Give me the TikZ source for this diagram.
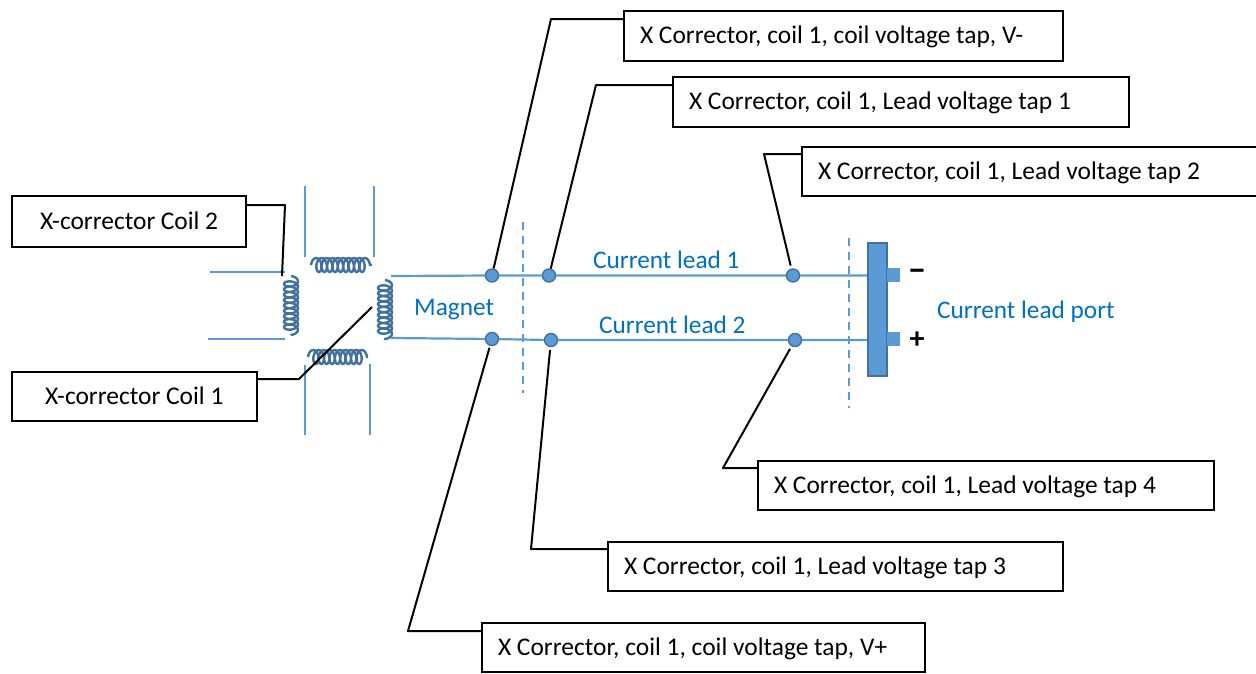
\documentclass[tikz,border=0pt]{standalone}
\usepackage{fontspec}
\setmainfont{Carlito}
\usetikzlibrary{decorations.pathmorphing}
\definecolor{wire}{HTML}{5B9BD5}
\definecolor{wireedge}{HTML}{41719C}
\definecolor{labelblue}{HTML}{0070C0}
\tikzset{
  lab/.style={draw=black,line width=2pt,anchor=north west,align=flush left,inner xsep=16pt,inner ysep=0pt,text height=18pt,text depth=3pt,font=\fontsize{25.45}{28}\selectfont},
  lead/.style={draw=black,line width=2pt,line join=round},
  wireline/.style={draw=wire,line width=2.2pt},
  cut/.style={draw=wire,line width=1.6pt,dashed,dash pattern=on 8pt off 6pt},
  coilline/.style={draw=wireedge,line width=2.4pt,decorate,decoration={coil,aspect=0.55,segment length=5.4pt,amplitude=7pt}},
  tap/.style={circle,draw=wireedge,fill=wire,line width=1.4pt,minimum size=13pt,inner sep=0pt},
  bluetext/.style={text=labelblue,font=\fontsize{25.3}{28}\selectfont,inner sep=0pt},
}
\begin{document}
\begin{tikzpicture}[x=1pt,y=-1pt]
\useasboundingbox (0,0) rectangle (1256,673);
% boxes
\node[lab,minimum width=439pt,minimum height=50pt,text width=407pt] (b1) at (623,10) {X Corrector, coil 1, coil voltage tap, V-};
\node[lab,minimum width=456pt,minimum height=50pt,text width=424pt] (b2) at (672,76) {X Corrector, coil 1, Lead voltage tap 1};
\node[lab,minimum width=456pt,minimum height=49pt,text width=424pt] (b3) at (801,146) {X Corrector, coil 1, Lead voltage tap 2};
\node[lab,minimum width=456pt,minimum height=49pt,text width=424pt] (b4) at (757,460) {X Corrector, coil 1, Lead voltage tap 4};
\node[lab,minimum width=455pt,minimum height=49pt,text width=423pt] (b5) at (607,541) {X Corrector, coil 1, Lead voltage tap 3};
\node[lab,minimum width=443pt,minimum height=49pt,text width=411pt] (b6) at (481,622) {X Corrector, coil 1, coil voltage tap, V+};
\node[lab,minimum width=234pt,minimum height=51pt,inner xsep=28pt,text width=178pt] (c2) at (11,195) {X-corrector Coil 2};
\node[lab,minimum width=245pt,minimum height=49pt,inner xsep=33pt,text width=179pt] (c1) at (11,371) {X-corrector Coil 1};
% magnet pole wires
\draw[wireline] (210,272) -- (285,272);
\draw[wireline] (208,339) -- (285,339);
\draw[wireline] (305,186) -- (305,257);
\draw[wireline] (374,186) -- (374,257);
\draw[wireline] (305,435) -- (305,365);
\draw[wireline] (370,435) -- (370,364);
% coils
\coordinate (cl1) at (291,276); \coordinate (cl2) at (291,335);
\coordinate (ct1) at (311,265); \coordinate (ct2) at (372,265);
\coordinate (cb1) at (308,357); \coordinate (cb2) at (368,357);
\coordinate (cr1) at (385,280); \coordinate (cr2) at (385,340);
\draw[coilline] (cl1) -- (cl2);
\draw[coilline] (ct1) -- (ct2);
\draw[coilline] (cb1) -- (cb2);
\draw[coilline] (cr1) -- (cr2);
% port
\node[draw=wireedge,fill=wire,line width=1.8pt,anchor=north west,minimum width=19pt,minimum height=133pt,inner sep=0pt] (bar) at (867,242) {};
\node[fill=wire,anchor=north west,minimum width=13pt,minimum height=14pt,inner sep=0pt] (tabm) at (887,268) {};
\node[fill=wire,anchor=north west,minimum width=13pt,minimum height=14pt,inner sep=0pt] (tabp) at (887,332) {};
% taps
\node[tap] (d1) at (492,275.5) {};
\node[tap] (d2) at (549,275.5) {};
\node[tap] (d3) at (793,275.5) {};
\node[tap] (d4) at (795,340) {};
\node[tap] (d5) at (551,340) {};
\node[tap] (d6) at (492,339) {};
% current leads
\draw[wireline] (391,276) -- (d1) -- (d2) -- (d3) -- (bar.west |- d3);
\draw[wireline] (391,338) -- (d6) -- (d5) -- (d4) -- (bar.west |- d4);
% section cuts
\draw[cut] (523,222) -- (523,393);
\draw[cut] (849,238) -- (849,408);
% leaders
\coordinate (e1) at (551,19);
\coordinate (e2) at (596,85);
\coordinate (e3) at (764,154);
\coordinate (e4) at (723,468);
\coordinate (e5) at (531,549);
\coordinate (e6) at (408,631);
\coordinate (e7) at (285,205);
\coordinate (e8) at (299,379);
\coordinate (t7) at (282,276);
\coordinate (t8) at (372,307);
\draw[lead] (b1.north west |- e1) -- (e1) -- (d1);
\draw[lead] (b2.north west |- e2) -- (e2) -- (d2);
\draw[lead,shorten >=3pt] (b3.north west |- e3) -- (e3) -- (d3);
\draw[lead,shorten >=3pt] (b4.north west |- e4) -- (e4) -- (d4);
\draw[lead,shorten >=3pt] (b5.north west |- e5) -- (e5) -- (d5);
\draw[lead,shorten >=2pt] (b6.north west |- e6) -- (e6) -- (d6);
\draw[lead] (c2.north east |- e7) -- (e7) -- (t7);
\draw[lead] (c1.north east |- e8) -- (e8) -- (t8);
% labels
\node[bluetext,anchor=west] (l1) at (593,260) {Current lead 1};
\node[bluetext,anchor=west] (l2) at (599,325) {Current lead 2};
\node[bluetext,anchor=west] (l3) at (414,309.5) {Magnet};
\node[bluetext,anchor=west] (l4) at (937,312) {Current lead port};
\node[font=\fontsize{34}{36}\selectfont\bfseries,inner sep=0pt] (mn) at (917,275) {−};
\node[font=\fontsize{30}{32}\selectfont\bfseries,inner sep=0pt] (pl) at (917,340) {+};
\end{tikzpicture}
\end{document}
